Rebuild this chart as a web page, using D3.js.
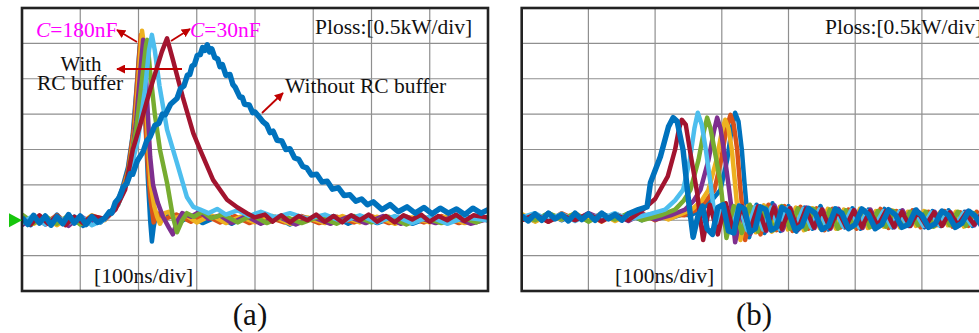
<!DOCTYPE html>
<html>
<head>
<meta charset="utf-8">
<script src="https://cdn.jsdelivr.net/npm/d3@7"></script>
<style>
  body { margin: 0; background: #fff; }
  svg { display: block; }
  text { font-family: "Liberation Serif", "Times New Roman", serif; }
</style>
</head>
<body>
<svg id="chart" width="979" height="333"></svg>
<script>
// time in ns, loss power in kW

// panel (a): with RC buffer (C = 180nF ... 30nF) and without
var aBlue180 = [[0,0.03],[15,-0.07],[30,0.06],[45,-0.05],[60,0.08],[75,-0.06],[90,0.05],[105,-0.08],[120,0.06],[135,-0.03],[145,0.05],[160,0.2],[172,0.45],[182,0.75],[190,1.2],[197,1.9],[202,2.45],[205,2.6],[208,2.3],[212,1.4],[216,0.6],[220,0.0],[223,-0.3],[226,-0.1],[230,0.08],[240,0.02],[255,0.07],[270,-0.03],[290,0.06],[310,-0.04],[335,0.05],[360,-0.05],[385,0.06],[410,-0.04],[435,0.05],[460,-0.06],[485,0.04],[510,-0.03],[535,0.06],[560,-0.05],[585,0.04],[610,-0.04],[640,0.05],[670,-0.05],[700,0.04],[730,-0.04],[760,0.05],[800,0.0]];
var aOrange = [[0,-0.05],[20,0.06],[40,-0.04],[60,0.07],[80,-0.06],[100,0.05],[120,-0.05],[142,0.02],[160,0.18],[172,0.42],[182,0.7],[192,1.3],[199,2.1],[204,2.62],[207,2.4],[211,1.6],[215,0.9],[220,0.35],[226,-0.03],[232,0.1],[245,0.02],[265,0.08],[290,-0.02],[315,0.07],[340,-0.03],[365,0.06],[390,-0.04],[420,0.05],[450,-0.03],[480,0.06],[510,-0.04],[540,0.05],[570,-0.03],[600,0.06],[630,-0.04],[660,0.05],[690,-0.03],[720,0.06],[750,-0.04],[780,0.05],[800,0.0]];
var aYellow = [[0,0.06],[20,-0.05],[40,0.05],[60,-0.07],[80,0.04],[100,-0.05],[120,0.07],[142,0.0],[160,0.16],[173,0.42],[184,0.72],[194,1.3],[200,2.0],[206,2.68],[209,2.5],[213,1.7],[217,1.0],[221,0.5],[227,0.2],[232,0.05],[237,-0.05],[245,0.1],[252,0.12],[262,0.03],[280,0.08],[300,-0.03],[325,0.07],[350,-0.04],[375,0.05],[400,-0.03],[430,0.06],[460,-0.05],[490,0.04],[520,-0.04],[550,0.06],[580,-0.03],[610,0.05],[640,-0.05],[670,0.04],[700,-0.03],[730,0.06],[760,-0.04],[800,0.03]];
var aPurple = [[0,-0.07],[20,0.05],[40,-0.06],[60,0.04],[80,-0.08],[100,0.06],[120,-0.04],[142,0.01],[160,0.15],[174,0.42],[186,0.75],[196,1.4],[203,2.1],[208,2.55],[212,2.2],[216,1.5],[220,0.9],[225,0.5],[233,0.25],[242,0.05],[252,-0.1],[259,-0.2],[266,-0.02],[275,0.1],[290,0.05],[305,0.12],[320,0.02],[340,0.07],[360,-0.04],[385,0.06],[410,-0.05],[440,0.05],[470,-0.06],[500,0.04],[530,-0.05],[560,0.05],[590,-0.04],[620,0.06],[650,-0.05],[680,0.04],[710,-0.04],[740,0.05],[770,-0.05],[800,0.02]];
var aGreen = [[0,0.08],[20,-0.04],[40,0.06],[60,-0.05],[80,0.07],[100,-0.06],[120,0.05],[142,0.02],[165,0.22],[180,0.57],[196,1.28],[206,1.98],[213,2.48],[215,2.55],[220,2.1],[228,1.5],[237,0.99],[249,0.53],[259,0.05],[266,-0.17],[275,0.0],[283,0.1],[295,0.05],[310,0.12],[325,0.03],[345,0.08],[370,-0.03],[395,0.07],[420,-0.04],[450,0.06],[480,-0.04],[510,0.05],[540,-0.05],[570,0.06],[600,-0.03],[630,0.05],[660,-0.06],[690,0.04],[720,-0.04],[750,0.05],[780,-0.03],[800,0.04]];
var aLightBlue = [[0,-0.04],[20,0.07],[40,-0.06],[60,0.05],[80,-0.04],[100,0.06],[120,-0.07],[142,0.01],[165,0.22],[182,0.57],[199,1.13],[211,1.84],[218,2.4],[223,2.62],[228,2.4],[236,1.9],[249,1.28],[266,0.81],[283,0.33],[294,0.19],[306,0.15],[320,0.1],[335,0.16],[350,0.08],[370,0.14],[390,0.06],[410,0.12],[435,0.04],[460,0.1],[490,0.02],[520,0.08],[550,-0.02],[580,0.07],[610,-0.03],[640,0.06],[670,-0.04],[700,0.05],[730,-0.05],[760,0.04],[800,0.0]];
var aDarkRed = [[0,0.02],[15,-0.06],[30,0.07],[45,-0.05],[60,0.06],[75,-0.07],[90,0.05],[105,-0.04],[120,0.06],[142,0.02],[160,0.15],[177,0.43],[190,0.99],[203,1.35],[215,1.7],[225,1.98],[240,2.38],[249,2.57],[259,2.27],[276,1.74],[294,1.23],[306,0.99],[328,0.57],[352,0.29],[370,0.18],[386,0.1],[400,0.04],[417,0.08],[430,-0.02],[445,0.07],[460,-0.03],[475,0.06],[490,0.0],[505,0.08],[520,-0.02],[535,0.06],[550,-0.03],[565,0.07],[580,0.0],[595,0.08],[610,-0.02],[625,0.06],[640,-0.03],[655,0.07],[670,0.01],[685,0.08],[700,-0.02],[715,0.06],[730,0.0],[745,0.08],[760,-0.01],[775,0.07],[800,0.04]];
var aBlueNoRC = [[0,0.04],[10,-0.06],[20,0.07],[30,-0.04],[40,0.06],[50,-0.07],[60,0.05],[70,-0.05],[80,0.08],[90,-0.04],[100,0.06],[110,-0.06],[120,0.05],[130,-0.03],[142,0.03],[150,0.12],[154,0.1],[160,0.25],[168,0.33],[174,0.47],[180,0.52],[186,0.66],[190,0.65],[198,0.84],[208,0.97],[214,1.12],[220,1.18],[228,1.34],[235,1.37],[241,1.5],[246,1.49],[255,1.64],[266,1.72],[272,1.86],[278,1.9],[284,2.05],[288,2.06],[292,2.18],[296,2.2],[301,2.33],[306,2.34],[310,2.44],[314,2.4],[318,2.48],[322,2.38],[326,2.42],[331,2.3],[336,2.28],[340,2.17],[344,2.2],[350,2.05],[357,2.06],[362,1.92],[366,1.88],[374,1.74],[378,1.74],[382,1.64],[390,1.63],[396,1.52],[400,1.53],[409,1.44],[414,1.39],[420,1.35],[426,1.24],[431,1.26],[438,1.13],[446,1.12],[453,1.0],[460,1.01],[468,0.88],[475,0.86],[482,0.76],[489,0.74],[497,0.64],[506,0.65],[515,0.54],[524,0.55],[533,0.44],[543,0.46],[553,0.35],[563,0.36],[573,0.27],[583,0.3],[593,0.22],[603,0.26],[618,0.15],[632,0.22],[646,0.12],[661,0.19],[675,0.1],[690,0.18],[704,0.09],[718,0.17],[732,0.1],[746,0.16],[760,0.08],[774,0.17],[788,0.1],[800,0.15]];

// panel (b)
var bBlueR = [[0,0.05],[20,-0.01],[40,0.1],[60,0.0],[80,0.09],[100,-0.01],[120,0.1],[140,0.01],[160,0.09],[180,0.0],[200,0.1],[220,0.02],[240,0.08],[253,0.07],[270,0.15],[285,0.28],[298,0.43],[308,0.85],[315,1.3],[320,1.52],[325,1.4],[330,1.0],[334,0.53],[338,0.1],[341,-0.24],[352,0.22],[364,-0.18],[376,0.24],[388,-0.15],[400,0.2],[412,-0.16],[424,0.18],[436,-0.12],[448,0.2],[460,-0.13],[472,0.16],[484,-0.1],[496,0.17],[508,-0.12],[520,0.15],[532,-0.09],[544,0.16],[556,-0.1],[568,0.13],[580,-0.08],[592,0.15],[604,-0.1],[616,0.13],[628,-0.08],[640,0.14],[652,-0.09],[664,0.12],[676,-0.08],[690,0.12]];
var bOrange = [[0,0.0],[20,0.08],[40,-0.02],[60,0.1],[80,0.01],[100,0.08],[120,-0.02],[140,0.09],[160,0.02],[180,0.1],[200,0.0],[220,0.08],[244,0.07],[262,0.15],[277,0.28],[289,0.43],[299,0.85],[307,1.3],[313,1.49],[318,1.35],[323,1.0],[328,0.43],[332,0.05],[335,-0.28],[346,0.18],[358,-0.2],[370,0.22],[382,-0.14],[394,0.2],[406,-0.15],[418,0.19],[430,-0.12],[442,0.17],[454,-0.14],[466,0.16],[478,-0.1],[490,0.15],[502,-0.12],[514,0.14],[526,-0.09],[538,0.16],[550,-0.11],[562,0.13],[574,-0.08],[586,0.14],[598,-0.1],[610,0.12],[622,-0.07],[634,0.13],[646,-0.09],[658,0.11],[670,-0.08],[682,0.12],[694,-0.06]];
var bYellow = [[0,0.09],[20,-0.02],[40,0.08],[60,0.01],[80,0.1],[100,0.0],[120,0.09],[140,-0.01],[160,0.08],[180,0.02],[200,0.09],[220,0.01],[235,0.07],[255,0.15],[270,0.28],[280,0.43],[292,0.85],[300,1.25],[305,1.42],[310,1.3],[315,1.0],[320,0.5],[324,0.1],[328,-0.28],[339,0.2],[351,-0.17],[363,0.21],[375,-0.16],[387,0.19],[399,-0.13],[411,0.18],[423,-0.14],[435,0.17],[447,-0.11],[459,0.16],[471,-0.12],[483,0.15],[495,-0.1],[507,0.16],[519,-0.11],[531,0.13],[543,-0.09],[555,0.14],[567,-0.1],[579,0.12],[591,-0.08],[603,0.13],[615,-0.09],[627,0.11],[639,-0.07],[651,0.12],[663,-0.09],[675,0.1],[690,-0.06]];
var bPurple = [[0,0.02],[20,0.09],[40,-0.01],[60,0.08],[80,0.0],[100,0.1],[120,0.02],[140,0.08],[160,-0.01],[180,0.09],[200,0.01],[223,0.07],[245,0.15],[258,0.28],[268,0.43],[280,0.85],[288,1.25],[293,1.45],[298,1.3],[303,1.0],[311,0.43],[316,0.05],[320,-0.31],[331,0.19],[343,-0.19],[355,0.2],[367,-0.15],[379,0.21],[391,-0.14],[403,0.17],[415,-0.13],[427,0.18],[439,-0.11],[451,0.15],[463,-0.12],[475,0.16],[487,-0.1],[499,0.14],[511,-0.11],[523,0.15],[535,-0.08],[547,0.13],[559,-0.1],[571,0.14],[583,-0.08],[595,0.12],[607,-0.09],[619,0.12],[631,-0.07],[643,0.11],[655,-0.08],[667,0.12],[679,-0.07],[690,0.1]];
var bGreen = [[0,0.07],[20,0.0],[40,0.1],[60,0.02],[80,0.09],[100,-0.02],[120,0.08],[140,0.01],[160,0.1],[180,0.0],[208,0.07],[230,0.15],[243,0.28],[253,0.43],[265,0.85],[273,1.25],[278,1.45],[283,1.3],[289,1.0],[298,0.53],[303,0.1],[307,-0.25],[318,0.2],[330,-0.18],[342,0.22],[354,-0.16],[366,0.18],[378,-0.14],[390,0.2],[402,-0.12],[414,0.17],[426,-0.13],[438,0.16],[450,-0.11],[462,0.15],[474,-0.12],[486,0.14],[498,-0.09],[510,0.15],[522,-0.1],[534,0.13],[546,-0.09],[558,0.13],[570,-0.1],[582,0.12],[594,-0.07],[606,0.12],[618,-0.09],[630,0.11],[642,-0.07],[654,0.12],[666,-0.08],[678,0.1],[690,-0.06]];
var bLightBlue = [[0,0.04],[20,0.1],[40,0.0],[60,0.09],[80,-0.01],[100,0.08],[120,0.02],[140,0.1],[160,0.01],[193,0.09],[215,0.15],[230,0.28],[242,0.43],[252,0.85],[259,1.3],[264,1.52],[270,1.35],[276,1.0],[283,0.53],[288,0.15],[292,-0.1],[302,0.2],[314,-0.15],[326,0.21],[338,-0.14],[350,0.19],[362,-0.13],[374,0.18],[386,-0.12],[398,0.17],[410,-0.11],[422,0.16],[434,-0.1],[446,0.15],[458,-0.11],[470,0.14],[482,-0.09],[494,0.14],[506,-0.1],[518,0.13],[530,-0.08],[542,0.13],[554,-0.09],[566,0.12],[578,-0.07],[590,0.12],[602,-0.08],[614,0.11],[626,-0.07],[638,0.11],[650,-0.08],[662,0.1],[674,-0.06],[690,0.1]];
var bDarkRed = [[0,0.0],[20,0.08],[40,-0.02],[60,0.07],[80,0.0],[100,0.09],[120,-0.01],[140,0.08],[160,0.0],[178,0.12],[200,0.3],[219,0.62],[230,1.0],[236,1.3],[240,1.42],[246,1.35],[252,1.0],[263,0.39],[268,0.0],[272,-0.28],[282,0.22],[294,-0.2],[306,0.24],[318,-0.17],[330,0.2],[342,-0.15],[354,0.19],[366,-0.14],[378,0.18],[390,-0.12],[402,0.17],[414,-0.13],[426,0.16],[438,-0.1],[450,0.15],[462,-0.11],[474,0.14],[486,-0.09],[498,0.14],[510,-0.1],[522,0.13],[534,-0.08],[546,0.13],[558,-0.09],[570,0.12],[582,-0.08],[594,0.12],[606,-0.07],[618,0.11],[630,-0.08],[642,0.11],[654,-0.07],[666,0.1],[678,-0.06],[690,0.1]];
var bBlueL = [[0,0.06],[10,-0.01],[20,0.09],[30,0.0],[40,0.1],[50,0.02],[60,0.08],[70,-0.01],[80,0.1],[90,0.01],[100,0.09],[110,0.0],[120,0.1],[130,0.02],[140,0.08],[150,0.0],[160,0.09],[175,0.15],[188,0.19],[193,0.53],[208,0.9],[220,1.32],[227,1.45],[233,1.4],[242,0.99],[250,0.29],[257,-0.24],[264,0.05],[271,0.2],[278,-0.12],[286,-0.2],[294,0.18],[302,0.22],[310,-0.15],[318,-0.18],[326,0.2],[334,0.16],[342,-0.17],[350,-0.12],[358,0.19],[366,0.15],[374,-0.14],[382,-0.1],[390,0.18],[400,0.12],[410,-0.14],[420,-0.08],[430,0.17],[440,0.1],[450,-0.13],[460,-0.08],[470,0.16],[480,0.1],[490,-0.12],[500,-0.06],[510,0.16],[520,0.08],[530,-0.12],[540,-0.06],[550,0.15],[560,0.08],[570,-0.1],[580,-0.06],[590,0.14],[600,0.07],[610,-0.1],[620,-0.05],[630,0.13],[640,0.07],[650,-0.1],[660,-0.04],[670,0.13],[680,0.06],[690,-0.09]];

// MATLAB style colours, drawn in this order (last on top)
var colors = ["#0072BD", "#D95319", "#EDB120", "#7E2F8E", "#77AC30", "#4DBEEE", "#A2142F", "#0072BD"];
var seriesA = [aBlue180, aOrange, aYellow, aPurple, aGreen, aLightBlue, aDarkRed, aBlueNoRC];
var seriesB = [bBlueR, bOrange, bYellow, bPurple, bGreen, bLightBlue, bDarkRed, bBlueL];

var timeDomain = [0, 800];   // 8 x 100ns/div
var powerDomain = [-1, 3];   // 8 x 0.5kW/div

var svg = d3.select("#chart");

function drawPanel(id, box, series) {
  var x = d3.scaleLinear().domain(timeDomain).range([box.x0, box.x1]);
  var y = d3.scaleLinear().domain(powerDomain).range([box.y1, box.y0]);

  var g = svg.append("g");

  g.append("clipPath").attr("id", "clip-" + id)
    .append("rect")
      .attr("x", box.x0).attr("y", box.y0)
      .attr("width", box.x1 - box.x0).attr("height", box.y1 - box.y0);

  // grid
  g.selectAll(".vgrid")
    .data(d3.range(100, 800, 100))
    .enter().append("line")
      .attr("x1", d => x(d)).attr("x2", d => x(d))
      .attr("y1", box.y0).attr("y2", box.y1)
      .attr("stroke", "#8f8f8f").attr("stroke-width", 1.2);
  g.selectAll(".hgrid")
    .data(d3.range(-0.5, 3, 0.5))
    .enter().append("line")
      .attr("x1", box.x0).attr("x2", box.x1)
      .attr("y1", d => y(d)).attr("y2", d => y(d))
      .attr("stroke", "#8f8f8f").attr("stroke-width", 1.2);

  var line = d3.line()
    .x(d => x(d[0]))
    .y(d => y(d[1]));

  g.append("g").attr("clip-path", "url(#clip-" + id + ")")
    .selectAll("path")
    .data(series)
    .enter().append("path")
      .attr("d", line)
      .attr("fill", "none")
      .attr("stroke", (d, i) => colors[i])
      .attr("stroke-width", (d, i) => i == 7 ? 5.5 : 4.5)
      .attr("stroke-linejoin", "round");

  // frame
  g.append("rect")
    .attr("x", box.x0).attr("y", box.y0)
    .attr("width", box.x1 - box.x0).attr("height", box.y1 - box.y0)
    .attr("fill", "none")
    .attr("stroke", "#222").attr("stroke-width", 2.6);

  return {x: x, y: y};
}

var pa = drawPanel("a", {x0: 22, x1: 488, y0: 8, y1: 291}, seriesA);
var pb = drawPanel("b", {x0: 521.7, x1: 1055.3, y0: 8, y1: 291}, seriesB);

// zero marker of channel (a)
var y0a = pa.y(0);
svg.append("path")
  .attr("d", "M9," + (y0a - 7) + "L9," + (y0a + 7) + "L22," + y0a + "Z")
  .attr("fill", "#16c60c");

function label(txt, x, y, size, opts) {
  opts = opts || {};
  return svg.append("text")
    .attr("x", x).attr("y", y)
    .attr("font-size", size)
    .attr("text-anchor", opts.anchor || "start")
    .attr("fill", opts.fill || "#111")
    .text(txt);
}

label("Ploss:[0.5kW/div]", 315, 34, 21.5);
label("Ploss:[0.5kW/div]", 825, 34, 21.5);
label("[100ns/div]", 94, 283, 21.5);
label("[100ns/div]", 615, 283, 21.5);
label("(a)", 250, 325, 31, {anchor: "middle"});
label("(b)", 754, 325, 31, {anchor: "middle"});

// C labels, italic C
var c1 = svg.append("text").attr("x", 36).attr("y", 37).attr("font-size", 21.5).attr("fill", "#ff00ff");
c1.append("tspan").attr("font-style", "italic").text("C");
c1.append("tspan").text("=180nF");
var c2 = svg.append("text").attr("x", 190).attr("y", 37).attr("font-size", 21.5).attr("fill", "#ff00ff");
c2.append("tspan").attr("font-style", "italic").text("C");
c2.append("tspan").text("=30nF");

label("With", 81, 71, 21, {anchor: "middle"});
label("RC buffer", 80, 90, 21.5, {anchor: "middle"});
label("Without RC buffer", 285, 93, 21.5);

// arrows
var defs = svg.append("defs");
defs.append("marker")
  .attr("id", "head")
  .attr("viewBox", "0 0 10 10")
  .attr("refX", 9).attr("refY", 5)
  .attr("markerWidth", 5).attr("markerHeight", 5)
  .attr("orient", "auto")
  .append("path").attr("d", "M0,0L10,5L0,10Z").attr("fill", "#c00000");

var arrows = [[137, 42, 117, 30], [171, 41, 190, 29], [182, 69, 117, 69], [262, 113, 283, 93]];
svg.selectAll(".arrow")
  .data(arrows)
  .enter().append("line")
    .attr("x1", d => d[0]).attr("y1", d => d[1])
    .attr("x2", d => d[2]).attr("y2", d => d[3])
    .attr("stroke", "#c00000").attr("stroke-width", 1.8)
    .attr("marker-end", "url(#head)");
</script>
</body>
</html>
